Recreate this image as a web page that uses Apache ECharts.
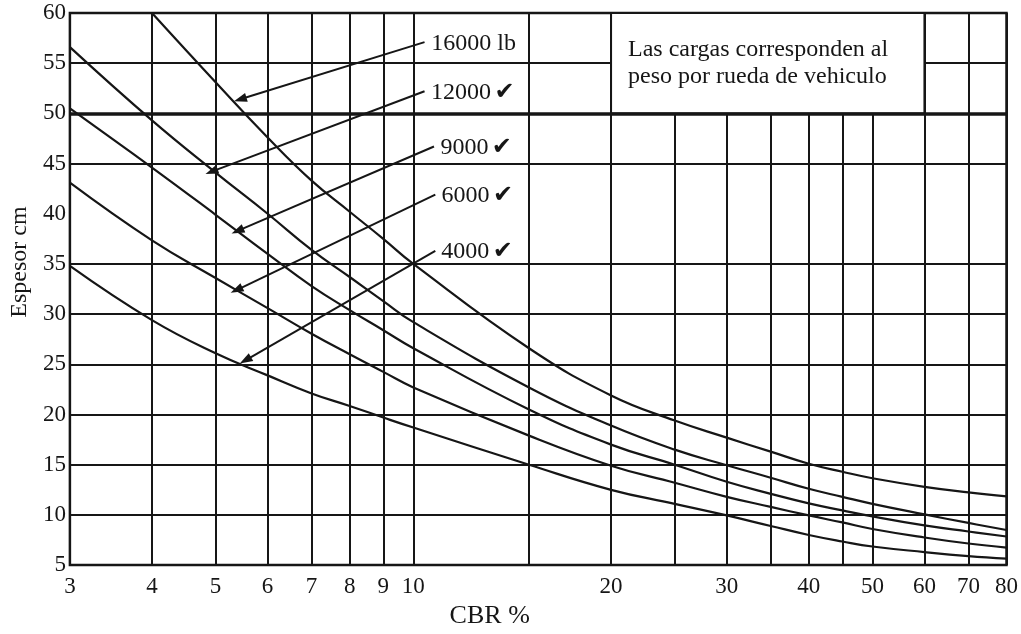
<!DOCTYPE html>
<html>
<head>
<meta charset="utf-8">
<title>Espesor vs CBR</title>
<script src="https://cdn.jsdelivr.net/npm/echarts@6.0.0/dist/echarts.min.js"></script>
<style>
  html, body { margin: 0; padding: 0; background: #fff; }
  #chart { width: 1021px; height: 634px; }
</style>
</head>
<body>
<div id="chart"></div>
<script>
// valores de CBR (%) en las lineas verticales del abaco
var cbr = [3, 4, 5, 6, 7, 8, 9, 10, 15, 20, 25, 30, 35, 40, 45, 50, 60, 70, 80];
// espesor (cm) leido para cada carga por rueda
var e16000 = [null, 60, 53.1, 47.6, 43.3, 40.2, 37.5, 35.0, 26.6, 21.9, 19.4, 17.7, 16.3, 15.1, 14.3, 13.65, 12.8, 12.25, 11.85];
var e12000 = [56.6, 49.3, 44.1, 40.0, 36.4, 33.7, 31.3, 29.2, 22.7, 18.9, 16.5, 14.95, 13.7, 12.6, 11.8, 11.1, 10.05, 9.2, 8.5];
var e9000 = [50.5, 44.6, 39.9, 36.0, 32.8, 30.4, 28.4, 26.6, 20.5, 17.0, 15.0, 13.3, 12.1, 11.15, 10.45, 9.85, 8.95, 8.35, 7.85];
var e6000 = [43.1, 37.35, 33.6, 30.6, 28.05, 26.0, 24.25, 22.7, 17.9, 14.9, 13.2, 11.8, 10.8, 9.95, 9.25, 8.6, 7.75, 7.15, 6.75];
var e4000 = [34.8, 29.4, 26.1, 23.9, 22.1, 20.85, 19.7, 18.7, 15.0, 12.5, 11.1, 9.95, 8.9, 8.0, 7.35, 6.85, 6.3, 5.9, 5.65];

// reticula y rotulos
var xGrid = [3, 4, 5, 6, 7, 8, 9, 10, 15, 20, 25, 30, 35, 40, 45, 50, 60, 70, 80];
var xLabels = [3, 4, 5, 6, 7, 8, 9, 10, 20, 30, 40, 50, 60, 70, 80];
var yHidden = 40; // esta linea horizontal no aparece en el abaco

// rotulos con flecha: texto, marca, punto del rotulo, punta de la flecha
var arrowNames = ['16000 lb', '12000', '9000', '6000', '4000'];
var arrowCheck = [false, true, true, true, true];
var arrowFrom = [[10.4, 57.1], [10.4, 52.2], [10.75, 46.7], [10.8, 41.9], [10.8, 36.3]];
var arrowTo = [[5.45, 51.4], [4.93, 44.2], [5.4, 38.3], [5.38, 32.4], [5.55, 25.4]];

var ink = '#161616';
var serif = '"Liberation Serif", "Times New Roman", serif';

var chart = echarts.init(document.getElementById('chart'));

function pairs(vals) {
  var out = [];
  for (var i = 0; i < cbr.length; i++) {
    if (vals[i] != null) out.push([cbr[i], vals[i]]);
  }
  return out;
}

var ySplitColors = [];
for (var v = 5; v <= 60; v += 5) {
  ySplitColors.push(v === yHidden ? 'rgba(0,0,0,0)' : ink);
}

var markLineData = [{
  yAxis: 50,
  lineStyle: { color: ink, width: 3.5, type: 'solid' },
  label: { show: false }
}];
for (var k = 0; k < arrowNames.length; k++) {
  markLineData.push([{
    coord: arrowFrom[k],
    symbol: 'none',
    label: {
      show: true,
      position: 'start',
      distance: 7,
      padding: [8, 0, 0, 0],
      formatter: arrowCheck[k] ? '{n|' + arrowNames[k] + '} {c|✔}' : '{n|' + arrowNames[k] + '}',
      rich: {
        n: { fontFamily: serif, fontSize: 24, color: ink },
        c: { fontFamily: '"DejaVu Sans"', fontSize: 24, fontWeight: 'bold', color: ink }
      }
    }
  }, {
    coord: arrowTo[k],
    symbol: 'triangle'
  }]);
}

var names = ['16000 lb', '12000 lb', '9000 lb', '6000 lb', '4000 lb'];
var loads = [e16000, e12000, e9000, e6000, e4000];
var series = loads.map(function (vals, i) {
  return {
    type: 'line',
    name: names[i],
    xAxisIndex: 0,
    yAxisIndex: 0,
    data: pairs(vals),
    smooth: 0.45,
    symbol: 'none',
    silent: true,
    lineStyle: { color: ink, width: 2.2 },
    z: 2
  };
});

series[0].markLine = {
  silent: true,
  z: 5,
  symbol: 'none',
  symbolSize: [9, 13],
  lineStyle: { color: ink, width: 2, type: 'solid' },
  data: markLineData
};
series[0].markArea = {
  silent: true,
  z: 3,
  itemStyle: { color: '#fff', borderColor: ink, borderWidth: 2 },
  label: {
    show: true,
    position: 'insideLeft',
    distance: 18,
    formatter: 'Las cargas corresponden al\npeso por rueda de vehiculo',
    fontFamily: serif,
    fontSize: 24,
    lineHeight: 27,
    color: ink
  },
  data: [[{ coord: [20, 60] }, { coord: [60, 50] }]]
};

var option = {
  backgroundColor: '#fff',
  animation: false,
  grid: {
    left: 67, right: 11, top: 13, bottom: 60,
    show: true, borderColor: ink, borderWidth: 2.5,
    backgroundColor: 'transparent'
  },
  xAxis: [{
    type: 'log',
    min: 3,
    max: 80,
    show: false
  }, {
    // eje auxiliar en log10 para la reticula y los rotulos
    type: 'value',
    position: 'bottom',
    min: Math.log10(3),
    max: Math.log10(80),
    axisLine: { show: false },
    axisTick: { show: false, customValues: xGrid.map(Math.log10) },
    axisLabel: {
      customValues: xLabels.map(Math.log10),
      formatter: function (v) { return String(Math.round(Math.pow(10, v))); },
      margin: 10,
      fontFamily: serif,
      fontSize: 23,
      color: ink
    },
    splitLine: { show: true, lineStyle: { color: ink, width: 2 } },
    name: 'CBR %',
    nameLocation: 'middle',
    nameGap: 36,
    nameTextStyle: { fontFamily: serif, fontSize: 26, color: ink, padding: [0, 97, 0, 0] }
  }],
  yAxis: {
    type: 'value',
    min: 5,
    max: 60,
    interval: 5,
    axisLine: { show: false },
    axisTick: { show: false },
    axisLabel: { margin: 4, fontFamily: serif, fontSize: 23, color: ink },
    splitLine: { show: true, lineStyle: { color: ySplitColors, width: 2 } },
    name: 'Espesor cm',
    nameLocation: 'middle',
    nameGap: 34,
    nameTextStyle: { fontFamily: serif, fontSize: 24, color: ink, padding: [0, 0, 0, 54] }
  },
  series: series
};

chart.setOption(option);
</script>
</body>
</html>
